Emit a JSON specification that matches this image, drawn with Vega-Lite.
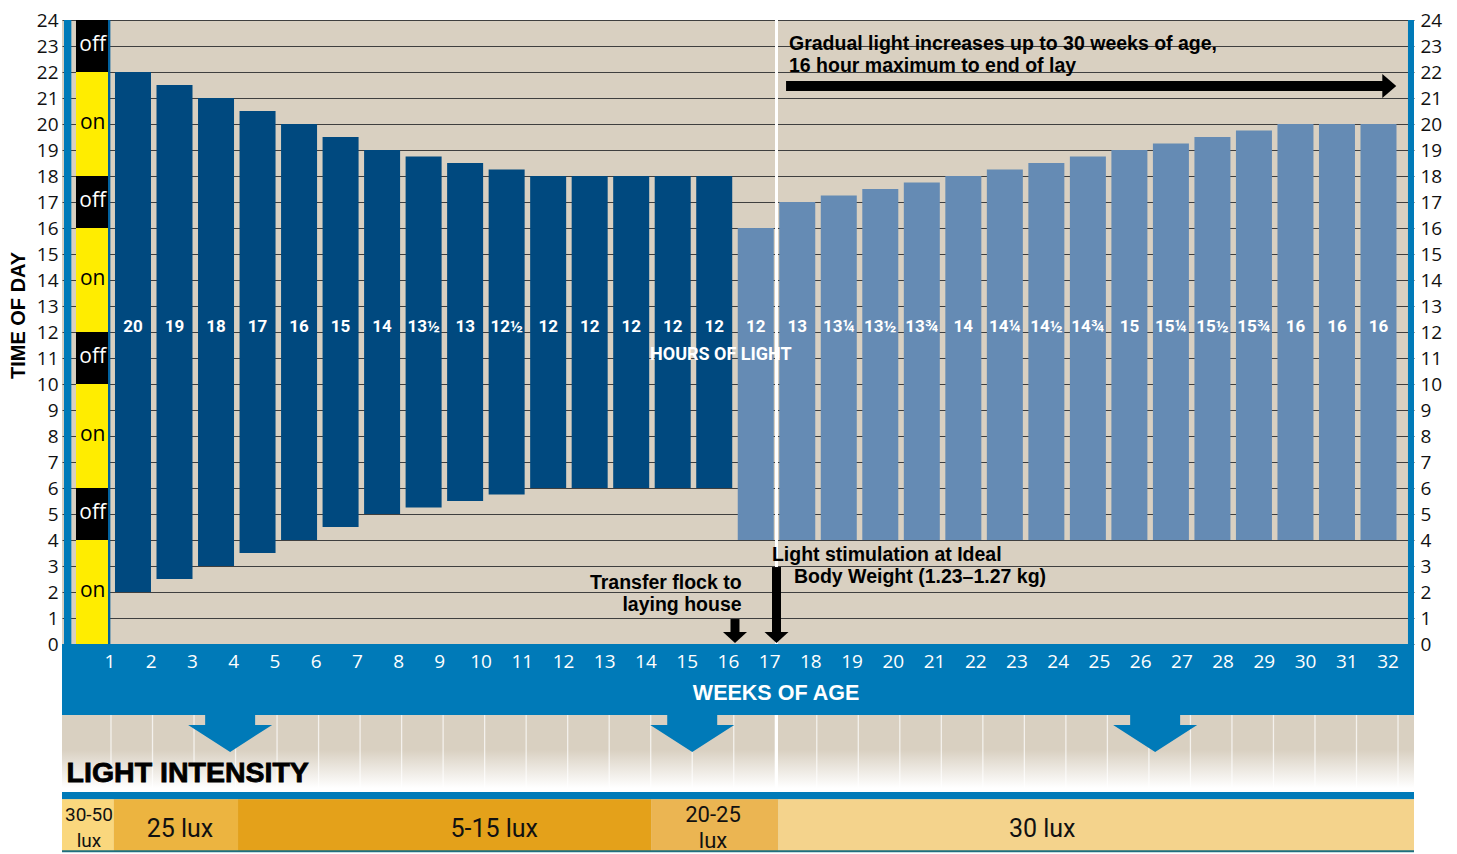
{
  "$schema": "https://vega.github.io/schema/vega-lite/v6.json",
  "autosize": {"type": "none"},
  "width": 1352,
  "height": 832,
  "padding": {"left": 62, "top": 20, "right": 43, "bottom": 2},
  "background": "#ffffff",
  "config": {
    "view": {"fill": "#d9d0c1", "stroke": null},
    "axis": {"labelFont": "Open Sans", "labelColor": "#111111"}
  },
  "data": {"values": [{}]},
  "datasets": {
    "bars": [
      {"week": 1, "on": 2, "off": 22, "hours": "20", "phase": "rearing"},
      {"week": 2, "on": 2.5, "off": 21.5, "hours": "19", "phase": "rearing"},
      {"week": 3, "on": 3, "off": 21, "hours": "18", "phase": "rearing"},
      {"week": 4, "on": 3.5, "off": 20.5, "hours": "17", "phase": "rearing"},
      {"week": 5, "on": 4, "off": 20, "hours": "16", "phase": "rearing"},
      {"week": 6, "on": 4.5, "off": 19.5, "hours": "15", "phase": "rearing"},
      {"week": 7, "on": 5, "off": 19, "hours": "14", "phase": "rearing"},
      {"week": 8, "on": 5.25, "off": 18.75, "hours": "13½", "phase": "rearing"},
      {"week": 9, "on": 5.5, "off": 18.5, "hours": "13", "phase": "rearing"},
      {"week": 10, "on": 5.75, "off": 18.25, "hours": "12½", "phase": "rearing"},
      {"week": 11, "on": 6, "off": 18, "hours": "12", "phase": "rearing"},
      {"week": 12, "on": 6, "off": 18, "hours": "12", "phase": "rearing"},
      {"week": 13, "on": 6, "off": 18, "hours": "12", "phase": "rearing"},
      {"week": 14, "on": 6, "off": 18, "hours": "12", "phase": "rearing"},
      {"week": 15, "on": 6, "off": 18, "hours": "12", "phase": "rearing"},
      {"week": 16, "on": 4, "off": 16, "hours": "12", "phase": "laying"},
      {"week": 17, "on": 4, "off": 17, "hours": "13", "phase": "laying"},
      {"week": 18, "on": 4, "off": 17.25, "hours": "13¼", "phase": "laying"},
      {"week": 19, "on": 4, "off": 17.5, "hours": "13½", "phase": "laying"},
      {"week": 20, "on": 4, "off": 17.75, "hours": "13¾", "phase": "laying"},
      {"week": 21, "on": 4, "off": 18, "hours": "14", "phase": "laying"},
      {"week": 22, "on": 4, "off": 18.25, "hours": "14¼", "phase": "laying"},
      {"week": 23, "on": 4, "off": 18.5, "hours": "14½", "phase": "laying"},
      {"week": 24, "on": 4, "off": 18.75, "hours": "14¾", "phase": "laying"},
      {"week": 25, "on": 4, "off": 19, "hours": "15", "phase": "laying"},
      {"week": 26, "on": 4, "off": 19.25, "hours": "15¼", "phase": "laying"},
      {"week": 27, "on": 4, "off": 19.5, "hours": "15½", "phase": "laying"},
      {"week": 28, "on": 4, "off": 19.75, "hours": "15¾", "phase": "laying"},
      {"week": 29, "on": 4, "off": 20, "hours": "16", "phase": "laying"},
      {"week": 30, "on": 4, "off": 20, "hours": "16", "phase": "laying"},
      {"week": 31, "on": 4, "off": 20, "hours": "16", "phase": "laying"}
    ],
    "strip": [
      {"start": 0, "end": 4, "state": "on"},
      {"start": 4, "end": 6, "state": "off"},
      {"start": 6, "end": 10, "state": "on"},
      {"start": 10, "end": 12, "state": "off"},
      {"start": 12, "end": 16, "state": "on"},
      {"start": 16, "end": 18, "state": "off"},
      {"start": 18, "end": 22, "state": "on"},
      {"start": 22, "end": 24, "state": "off"}
    ],
    "weeks": [
      {"week": 1}, {"week": 2}, {"week": 3}, {"week": 4}, {"week": 5}, {"week": 6}, {"week": 7}, {"week": 8},
      {"week": 9}, {"week": 10}, {"week": 11}, {"week": 12}, {"week": 13}, {"week": 14}, {"week": 15}, {"week": 16},
      {"week": 17}, {"week": 18}, {"week": 19}, {"week": 20}, {"week": 21}, {"week": 22}, {"week": 23}, {"week": 24},
      {"week": 25}, {"week": 26}, {"week": 27}, {"week": 28}, {"week": 29}, {"week": 30}, {"week": 31}, {"week": 32}
    ],
    "lux": [
      {"from": -0.18, "to": 1.07, "label": "30-50\nlux", "center": 0.47},
      {"from": 1.07, "to": 4.06, "label": "25 lux", "center": 2.66},
      {"from": 4.06, "to": 14.01, "label": "5-15 lux", "center": 10.23},
      {"from": 14.01, "to": 17.07, "label": "20-25\nlux", "center": 15.5},
      {"from": 17.07, "to": 32.385, "label": "30 lux", "center": 23.43}
    ]
  },
  "resolve": {"axis": {"y": "independent"}, "scale": {"color": "independent"}},
  "layer": [
    {
      "mark": {"type": "rule", "color": "#ffffff", "strokeWidth": 3},
      "encoding": {
        "x": {"datum": 17.03, "type": "quantitative", "axis": null},
        "y": {"datum": 0, "type": "quantitative", "axis": null}, "y2": {"datum": 24}
      }
    },
    {
      "data": {"name": "bars"},
      "mark": {"type": "bar", "width": 36, "xOffset": 22},
      "encoding": {
        "x": {
          "field": "week", "type": "quantitative",
          "scale": {"domain": [-0.18, 32.385], "nice": false, "zero": false, "padding": 0},
          "axis": {"values": [1,2,3,4,5,6,7,8,9,10,11,12,13,14,15,16,17,18,19,20,21,22,23,24,25,26,27,28,29,30,31,32],
                   "grid": true, "gridColor": "#f6f3ee", "gridWidth": 1.6, "labels": false, "ticks": false, "domain": false, "title": null}
        },
        "y": {
          "field": "on", "type": "quantitative",
          "scale": {"domain": [-8, 24], "nice": false, "zero": false, "padding": 0},
          "axis": {"orient": "left", "values": [0,1,2,3,4,5,6,7,8,9,10,11,12,13,14,15,16,17,18,19,20,21,22,23,24],
                   "grid": true, "gridColor": "#3f3f3f", "gridWidth": 1, "ticks": false, "domain": false,
                   "labelFontSize": 19, "labelPadding": 4, "labelFlush": false, "labelOverlap": false,
                   "title": "TIME OF DAY", "titleFont": "Liberation Sans", "titleFontWeight": "bold", "titleFontSize": 20,
                   "titleColor": "#000000", "titleAngle": -90, "titleX": -44, "titleY": 295, "titleAlign": "center", "titleBaseline": "middle"}
        },
        "y2": {"field": "off"},
        "color": {"field": "phase", "type": "nominal", "scale": {"domain": ["rearing", "laying"], "range": ["#00497f", "#658bb4"]}, "legend": null}
      }
    },
    {
      "data": {"name": "strip"},
      "mark": {"type": "rect"},
      "encoding": {
        "x": {"datum": 0.157, "type": "quantitative", "axis": null},
        "x2": {"datum": 0.928},
        "y": {"field": "start", "type": "quantitative",
              "axis": {"orient": "right", "values": [0,1,2,3,4,5,6,7,8,9,10,11,12,13,14,15,16,17,18,19,20,21,22,23,24],
                       "grid": false, "ticks": false, "domain": false, "labelFontSize": 19, "labelPadding": 6,
                       "labelFlush": false, "labelOverlap": false, "title": null}},
        "y2": {"field": "end"},
        "color": {"field": "state", "type": "nominal", "scale": {"domain": ["on", "off"], "range": ["#ffed00", "#000000"]}, "legend": null}
      }
    },
    {
      "data": {"name": "strip"},
      "transform": [{"filter": {"field": "state", "equal": "on"}}],
      "mark": {"type": "text", "font": "Open Sans", "fontSize": 21, "color": "#000000", "align": "center", "baseline": "middle", "dy": -53},
      "encoding": {
        "x": {"datum": 0.56, "type": "quantitative", "axis": null},
        "y": {"field": "start", "type": "quantitative", "axis": null},
        "text": {"field": "state"}
      }
    },
    {
      "data": {"name": "strip"},
      "transform": [{"filter": {"field": "state", "equal": "off"}}],
      "mark": {"type": "text", "font": "Open Sans", "fontSize": 21, "color": "#ffffff", "align": "center", "baseline": "middle", "dy": -27},
      "encoding": {
        "x": {"datum": 0.56, "type": "quantitative", "axis": null},
        "y": {"field": "start", "type": "quantitative", "axis": null},
        "text": {"field": "state"}
      }
    },
    {
      "mark": {"type": "rect", "color": "#00609e"},
      "encoding": {
        "x": {"datum": 0.928, "type": "quantitative", "axis": null}, "x2": {"datum": 0.985},
        "y": {"datum": 0, "type": "quantitative", "axis": null}, "y2": {"datum": 24}
      }
    },
    {
      "mark": {"type": "rect", "color": "#007ab8"},
      "encoding": {
        "x": {"datum": -0.132, "type": "quantitative", "axis": null}, "x2": {"datum": 0.045},
        "y": {"datum": 0, "type": "quantitative", "axis": null}, "y2": {"datum": 24}
      }
    },
    {
      "mark": {"type": "rect", "color": "#007ab8"},
      "encoding": {
        "x": {"datum": 32.24, "type": "quantitative", "axis": null}, "x2": {"datum": 32.385},
        "y": {"datum": 0, "type": "quantitative", "axis": null}, "y2": {"datum": 24}
      }
    },
    {
      "mark": {"type": "rect", "color": "#007ab8"},
      "encoding": {
        "x": {"datum": -0.18, "type": "quantitative", "axis": null}, "x2": {"datum": 32.385},
        "y": {"datum": 0, "type": "quantitative", "axis": null}, "y2": {"datum": -2.73}
      }
    },
    {
      "mark": {"type": "rect", "fill": {"gradient": "linear", "x1": 0, "y1": 0, "x2": 0, "y2": 1,
               "stops": [{"offset": 0, "color": "#d9d0c1"}, {"offset": 0.45, "color": "#d9d0c1"}, {"offset": 0.95, "color": "#ffffff"}, {"offset": 1, "color": "#ffffff"}]}},
      "encoding": {
        "x": {"datum": -0.18, "type": "quantitative", "axis": null}, "x2": {"datum": 32.385},
        "y": {"datum": -2.73, "type": "quantitative", "axis": null}, "y2": {"datum": -5.69}
      }
    },
    {
      "data": {"name": "weeks"},
      "mark": {"type": "rule", "color": "#ffffff", "strokeWidth": 1.3, "opacity": 0.7},
      "encoding": {
        "x": {"field": "week", "type": "quantitative", "axis": null},
        "y": {"datum": -2.73, "type": "quantitative", "axis": null}, "y2": {"datum": -5.6}
      }
    },
    {
      "mark": {"type": "rule", "color": "#ffffff", "strokeWidth": 3},
      "encoding": {
        "x": {"datum": 17.03, "type": "quantitative", "axis": null},
        "y": {"datum": -2.73, "type": "quantitative", "axis": null}, "y2": {"datum": -5.6}
      }
    },
    {
      "mark": {"type": "rect", "color": "#007ab8"},
      "encoding": {
        "x": {"datum": -0.18, "type": "quantitative", "axis": null}, "x2": {"datum": 32.385},
        "y": {"datum": -5.69, "type": "quantitative", "axis": null}, "y2": {"datum": -5.97}
      }
    },
    {
      "data": {"name": "lux"},
      "mark": {"type": "rect"},
      "encoding": {
        "x": {"field": "from", "type": "quantitative", "axis": null}, "x2": {"field": "to"},
        "y": {"datum": -5.97, "type": "quantitative", "axis": null}, "y2": {"datum": -8},
        "color": {"field": "label", "type": "nominal", "legend": null,
                  "scale": {"domain": ["30-50\nlux", "25 lux", "5-15 lux", "20-25\nlux", "30 lux"],
                            "range": ["#fad77d", "#ecb440", "#e4a11a", "#ebb552", "#f4d38c"]}}
      }
    },
    {
      "mark": {"type": "rule", "color": "#1f6f80", "strokeWidth": 2},
      "encoding": {
        "x": {"datum": -0.18, "type": "quantitative", "axis": null}, "x2": {"datum": 32.385},
        "y": {"datum": -7.97, "type": "quantitative", "axis": null}
      }
    },
    {
      "data": {"name": "lux"},
      "transform": [{"filter": {"field": "label", "oneOf": ["25 lux", "5-15 lux", "30 lux"]}}],
      "mark": {"type": "text", "font": "Roboto", "fontSize": 25, "color": "#111111", "align": "center", "baseline": "middle"},
      "encoding": {
        "x": {"field": "center", "type": "quantitative", "axis": null},
        "y": {"datum": -7.12, "type": "quantitative", "axis": null},
        "text": {"field": "label"}
      }
    },
    {
      "data": {"name": "lux"},
      "transform": [{"filter": {"field": "label", "equal": "20-25\nlux"}}],
      "mark": {"type": "text", "font": "Roboto", "fontSize": 22, "color": "#111111", "align": "center", "baseline": "middle", "lineBreak": "\n", "lineHeight": 26},
      "encoding": {
        "x": {"field": "center", "type": "quantitative", "axis": null},
        "y": {"datum": -6.56, "type": "quantitative", "axis": null},
        "text": {"field": "label"}
      }
    },
    {
      "data": {"name": "lux"},
      "transform": [{"filter": {"field": "label", "equal": "30-50\nlux"}}],
      "mark": {"type": "text", "font": "Roboto", "fontSize": 19, "color": "#111111", "align": "center", "baseline": "middle", "lineBreak": "\n", "lineHeight": 26},
      "encoding": {
        "x": {"field": "center", "type": "quantitative", "axis": null},
        "y": {"datum": -6.56, "type": "quantitative", "axis": null},
        "text": {"field": "label"}
      }
    },
    {
      "data": {"name": "bars"},
      "mark": {"type": "text", "font": "Roboto", "fontWeight": "bold", "fontSize": 17,
               "color": "#ffffff", "align": "center", "baseline": "middle", "xOffset": 22},
      "encoding": {
        "x": {"field": "week", "type": "quantitative", "axis": null},
        "y": {"datum": 12.19, "type": "quantitative", "axis": null},
        "text": {"field": "hours"}
      }
    },
    {
      "mark": {"type": "text", "text": "HOURS OF LIGHT", "font": "Roboto", "fontWeight": "bold",
               "fontSize": 18, "color": "#ffffff", "align": "center", "baseline": "middle"},
      "encoding": {"x": {"datum": 15.69, "type": "quantitative", "axis": null}, "y": {"datum": 11.1, "type": "quantitative", "axis": null}}
    },
    {
      "data": {"name": "weeks"},
      "mark": {"type": "text", "font": "Open Sans", "fontSize": 19, "color": "#ffffff", "align": "center", "baseline": "middle",
               "dx": {"expr": "-1 - 0.29 * (datum.week - 1)"}},
      "encoding": {
        "x": {"field": "week", "type": "quantitative", "axis": null},
        "y": {"datum": -0.69, "type": "quantitative", "axis": null},
        "text": {"field": "week"}
      }
    },
    {
      "mark": {"type": "text", "text": "WEEKS OF AGE", "font": "Liberation Sans", "fontWeight": "bold", "fontSize": 21.5, "color": "#ffffff", "align": "center", "baseline": "middle"},
      "encoding": {"x": {"datum": 17.02, "type": "quantitative", "axis": null}, "y": {"datum": -1.92, "type": "quantitative", "axis": null}}
    },
    {
      "mark": {"type": "text", "text": "LIGHT INTENSITY", "font": "Liberation Sans", "fontWeight": "bold", "fontSize": 28.5, "color": "#000000",
               "stroke": "#000000", "strokeWidth": 0.8, "align": "left", "baseline": "middle"},
      "encoding": {"x": {"datum": -0.07, "type": "quantitative", "axis": null}, "y": {"datum": -4.96, "type": "quantitative", "axis": null}}
    },
    {
      "mark": {"type": "point", "filled": true, "opacity": 1, "color": "#007ab8", "size": 7056,
               "shape": "M-0.595,-0.5 L0.595,-0.5 L0.595,-0.202 L1,-0.202 L0,0.44 L-1,-0.202 L-0.595,-0.202 Z"},
      "encoding": {"x": {"datum": 3.87, "type": "quantitative", "axis": null}, "y": {"datum": -3.44, "type": "quantitative", "axis": null}}
    },
    {
      "mark": {"type": "point", "filled": true, "opacity": 1, "color": "#007ab8", "size": 7056,
               "shape": "M-0.595,-0.5 L0.595,-0.5 L0.595,-0.202 L1,-0.202 L0,0.44 L-1,-0.202 L-0.595,-0.202 Z"},
      "encoding": {"x": {"datum": 15.0, "type": "quantitative", "axis": null}, "y": {"datum": -3.44, "type": "quantitative", "axis": null}}
    },
    {
      "mark": {"type": "point", "filled": true, "opacity": 1, "color": "#007ab8", "size": 7056,
               "shape": "M-0.595,-0.5 L0.595,-0.5 L0.595,-0.202 L1,-0.202 L0,0.44 L-1,-0.202 L-0.595,-0.202 Z"},
      "encoding": {"x": {"datum": 26.15, "type": "quantitative", "axis": null}, "y": {"datum": -3.44, "type": "quantitative", "axis": null}}
    },
    {
      "mark": {"type": "text", "text": "Gradual light increases up to 30 weeks of age,", "font": "Liberation Sans", "fontWeight": "bold", "fontSize": 19.5, "color": "#000000", "align": "left", "baseline": "middle"},
      "encoding": {"x": {"datum": 17.33, "type": "quantitative", "axis": null}, "y": {"datum": 23.08, "type": "quantitative", "axis": null}}
    },
    {
      "mark": {"type": "text", "text": "16 hour maximum to end of lay", "font": "Liberation Sans", "fontWeight": "bold", "fontSize": 19.5, "color": "#000000", "align": "left", "baseline": "middle"},
      "encoding": {"x": {"datum": 17.33, "type": "quantitative", "axis": null}, "y": {"datum": 22.23, "type": "quantitative", "axis": null}}
    },
    {
      "mark": {"type": "rule", "color": "#000000", "strokeWidth": 10},
      "encoding": {"x": {"datum": 17.26, "type": "quantitative", "axis": null}, "x2": {"datum": 31.68}, "y": {"datum": 21.46, "type": "quantitative", "axis": null}}
    },
    {
      "mark": {"type": "point", "filled": true, "opacity": 1, "color": "#000000", "size": 576, "shape": "M-0.58,-1 L0.58,0 L-0.58,1 Z"},
      "encoding": {"x": {"datum": 31.79, "type": "quantitative", "axis": null}, "y": {"datum": 21.46, "type": "quantitative", "axis": null}}
    },
    {
      "mark": {"type": "text", "text": "Transfer flock to", "font": "Liberation Sans", "fontWeight": "bold", "fontSize": 19.5, "color": "#000000", "align": "right", "baseline": "middle"},
      "encoding": {"x": {"datum": 16.19, "type": "quantitative", "axis": null}, "y": {"datum": 2.35, "type": "quantitative", "axis": null}}
    },
    {
      "mark": {"type": "text", "text": "laying house", "font": "Liberation Sans", "fontWeight": "bold", "fontSize": 19.5, "color": "#000000", "align": "right", "baseline": "middle"},
      "encoding": {"x": {"datum": 16.19, "type": "quantitative", "axis": null}, "y": {"datum": 1.5, "type": "quantitative", "axis": null}}
    },
    {
      "mark": {"type": "text", "text": "Light stimulation at Ideal", "font": "Liberation Sans", "fontWeight": "bold", "fontSize": 19.5, "color": "#000000", "align": "left", "baseline": "middle"},
      "encoding": {"x": {"datum": 16.92, "type": "quantitative", "axis": null}, "y": {"datum": 3.42, "type": "quantitative", "axis": null}}
    },
    {
      "mark": {"type": "text", "text": "Body Weight (1.23–1.27 kg)", "font": "Liberation Sans", "fontWeight": "bold", "fontSize": 19.5, "color": "#000000", "align": "left", "baseline": "middle"},
      "encoding": {"x": {"datum": 17.45, "type": "quantitative", "axis": null}, "y": {"datum": 2.58, "type": "quantitative", "axis": null}}
    },
    {
      "mark": {"type": "rule", "color": "#000000", "strokeWidth": 9},
      "encoding": {"x": {"datum": 16.03, "type": "quantitative", "axis": null}, "y": {"datum": 0.96, "type": "quantitative", "axis": null}, "y2": {"datum": 0.4}}
    },
    {
      "mark": {"type": "point", "filled": true, "opacity": 1, "color": "#000000", "size": 576, "shape": "M-1,-0.46 L1,-0.46 L0,0.46 Z"},
      "encoding": {"x": {"datum": 16.03, "type": "quantitative", "axis": null}, "y": {"datum": 0.25, "type": "quantitative", "axis": null}}
    },
    {
      "mark": {"type": "rule", "color": "#000000", "strokeWidth": 9},
      "encoding": {"x": {"datum": 17.03, "type": "quantitative", "axis": null}, "y": {"datum": 2.96, "type": "quantitative", "axis": null}, "y2": {"datum": 0.4}}
    },
    {
      "mark": {"type": "point", "filled": true, "opacity": 1, "color": "#000000", "size": 576, "shape": "M-1,-0.46 L1,-0.46 L0,0.46 Z"},
      "encoding": {"x": {"datum": 17.03, "type": "quantitative", "axis": null}, "y": {"datum": 0.25, "type": "quantitative", "axis": null}}
    }
  ]
}
